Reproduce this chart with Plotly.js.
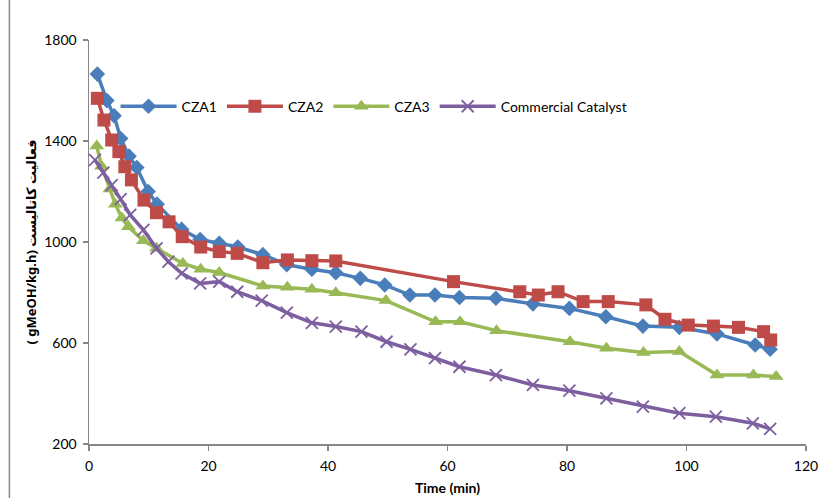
<!DOCTYPE html>
<html>
<head>
<meta charset="utf-8">
<script src="https://cdn.plot.ly/plotly-3.0.1.min.js"></script>
<style>html,body{margin:0;padding:0;background:#fff;}#chart{width:826px;height:498px;}</style>
</head>
<body>
<div id="chart"></div>
<script>
// Time (min) and activity (gMeOH/kg.h)
const cza1Time = [1.4, 3.0, 4.2, 5.3, 6.7, 8.0, 9.9, 11.4, 15.5, 18.6, 21.8, 24.9, 29.1, 33.1, 37.3, 41.3, 45.4, 49.5, 53.7, 57.9, 62.0, 68.1, 74.3, 80.4, 86.5, 92.7, 98.8, 105.1, 111.5, 114.0];
const cza1Value = [1665, 1560, 1500, 1410, 1340, 1295, 1200, 1150, 1050, 1010, 995, 980, 950, 910, 892, 878, 856, 830, 790, 790, 780, 777, 755, 737, 704, 667, 662, 636, 592, 575];

const cza2Time = [1.4, 2.5, 3.8, 5.0, 6.0, 7.1, 9.2, 11.3, 13.4, 15.6, 18.7, 21.8, 24.8, 29.1, 33.2, 37.3, 41.3, 61.0, 72.1, 75.2, 78.5, 82.7, 86.9, 93.2, 96.4, 100.3, 104.5, 108.7, 112.9, 114.1];
const cza2Value = [1569, 1483, 1404, 1358, 1298, 1246, 1166, 1116, 1080, 1021, 980, 962, 955, 918, 929, 926, 925, 843, 803, 790, 803, 764, 764, 751, 694, 671, 667, 662, 645, 612];

const cza3Time = [1.3, 2.1, 3.5, 4.4, 5.5, 6.6, 9.1, 11.3, 15.7, 18.7, 21.8, 29.1, 33.2, 37.3, 41.3, 49.7, 58.0, 62.1, 68.2, 80.5, 86.6, 92.8, 98.8, 105.1, 111.2, 115.0];
const cza3Value = [1380, 1300, 1210, 1150, 1095, 1060, 1005, 975, 915, 892, 879, 826, 821, 813, 799, 768, 684, 684, 649, 605, 579, 562, 566, 473, 473, 467];

const commTime = [1.0, 2.4, 3.8, 5.3, 6.9, 9.1, 11.3, 13.3, 15.5, 18.6, 21.8, 24.8, 28.9, 33.1, 37.3, 41.3, 45.6, 49.8, 53.8, 57.9, 62.0, 68.1, 74.3, 80.4, 86.6, 92.7, 98.8, 104.9, 111.1, 114.0];
const commValue = [1325, 1275, 1225, 1170, 1107, 1048, 975, 922, 876, 836, 843, 803, 768, 720, 680, 665, 645, 605, 575, 540, 506, 473, 434, 411, 381, 348, 322, 308, 282, 260];

const seriesNames = ["CZA1", "CZA2", "CZA3", "Commercial Catalyst"];
const xTicks = [0, 20, 40, 60, 80, 100, 120];
const yTicks = [200, 600, 1000, 1400, 1800];

const traces = [
  {x: cza1Time, y: cza1Value, name: seriesNames[0], mode: "lines+markers",
   line: {color: "#4A7EBB", width: 3.5}, marker: {symbol: "diamond", size: 12, color: "#4A7EBB"}},
  {x: cza2Time, y: cza2Value, name: seriesNames[1], mode: "lines+markers",
   line: {color: "#BE4B48", width: 3.5}, marker: {symbol: "square", size: 13, color: "#BE4B48"}},
  {x: cza3Time, y: cza3Value, name: seriesNames[2], mode: "lines+markers",
   line: {color: "#98B954", width: 3.5}, marker: {symbol: "triangle-up", size: 13, color: "#98B954"}},
  {x: commTime, y: commValue, name: seriesNames[3], mode: "lines+markers",
   line: {color: "#7D5FA0", width: 3.5}, marker: {symbol: "x-thin-open", size: 12, color: "#7D5FA0", line: {width: 1.8, color: "#7D5FA0"}}}
];

const fontFam = "Lato, 'Open Sans', sans-serif";
const axisFont = {family: fontFam, size: 14, color: "#000"};
const layout = {
  width: 826, height: 498,
  margin: {l: 89, r: 20, t: 40, b: 54},
  paper_bgcolor: "#fff", plot_bgcolor: "#fff",
  showlegend: true,
  legend: {orientation: "h", x: 0.037, y: 0.835, xanchor: "left", yanchor: "middle",
           font: {family: fontFam, size: 14, color: "#000"},
           itemwidth: 56, bgcolor: "rgba(0,0,0,0)"},
  xaxis: {range: [0, 120], tickvals: xTicks, ticktext: xTicks.map(String),
          showgrid: false, zeroline: false, showline: true, linecolor: "#868686", linewidth: 1.5,
          ticks: "outside", ticklen: 5, tickcolor: "#868686", tickwidth: 1.5,
          tickfont: axisFont, ticklabelstandoff: 4,
          title: {text: "<b>Time (min)</b>", font: {family: fontFam, size: 14, color: "#000"}, standoff: 10}},
  yaxis: {range: [200, 1800], tickvals: yTicks, ticktext: yTicks.map(String),
          showgrid: false, zeroline: false, showline: true, linecolor: "#868686", linewidth: 1.5,
          ticks: "outside", ticklen: 5, tickcolor: "#868686", tickwidth: 1.5,
          tickfont: axisFont, ticklabelstandoff: 3,
          title: {text: "<b>( gMeOH/kg.h) فعالیت کاتالیست</b>", font: {family: "'Noto Sans', 'DejaVu Sans', sans-serif", size: 13, color: "#000"}, standoff: 4}},
  shapes: [
    {type: "line", xref: "paper", yref: "paper", x0: -0.111, x1: -0.111, y0: -0.2, y1: 1.2,
     line: {color: "#868686", width: 1.5}}
  ]
};

Plotly.newPlot("chart", traces, layout, {displayModeBar: false, staticPlot: true});
</script>
</body>
</html>
